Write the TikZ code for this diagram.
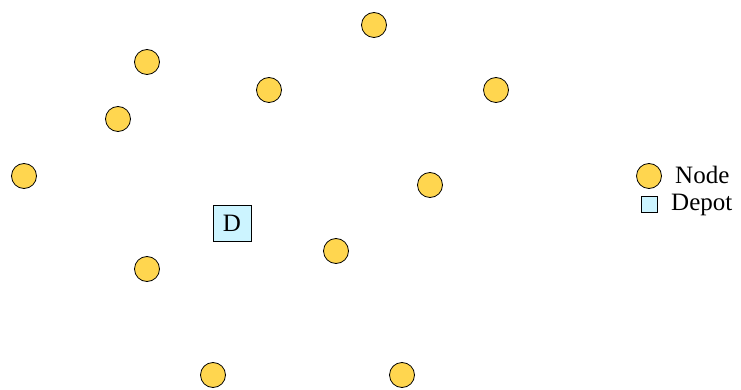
\documentclass[tikz,border=0pt]{standalone}
\usepackage{fontspec}
\setmainfont{Liberation Serif}
\definecolor{nodey}{RGB}{255,214,79}
\definecolor{depotc}{RGB}{204,244,255}
\begin{document}
\begin{tikzpicture}[x=1pt,y=-1pt,
  cust/.style={circle,draw=black,fill=nodey,line width=0.8pt,minimum size=25pt,inner sep=0pt},
  depot/.style={rectangle,draw=black,fill=depotc,line width=0.8pt,minimum width=38pt,minimum height=36pt,inner sep=0pt,font=\fontsize{25}{28}\selectfont},
  legdepot/.style={rectangle,draw=black,fill=depotc,line width=0.8pt,minimum size=16pt,inner sep=0pt},
  lab/.style={anchor=west,inner sep=0pt,font=\fontsize{25}{28}\selectfont}]
\useasboundingbox (0,0) rectangle (741,390);
\node[cust] (n1) at (374,25) {};
\node[cust] (n2) at (147,62) {};
\node[cust] (n3) at (269,90) {};
\node[cust] (n4) at (496,90) {};
\node[cust] (n5) at (118,119) {};
\node[cust] (n6) at (24,176) {};
\node[cust] (n7) at (430,185) {};
\node[cust] (n8) at (336,251) {};
\node[cust] (n9) at (147,269) {};
\node[cust] (n10) at (213,375) {};
\node[cust] (n11) at (402,375) {};
\node[depot] (d) at (232,223) {D};
\node[cust] (ln) at (649,176) {};
\node[lab] (lnt) at (675,175) {Node};
\node[lab] (ldt) at (671,205) {Depot};
\node[legdepot] (ld) at (649,204) {};
\end{tikzpicture}
\end{document}
